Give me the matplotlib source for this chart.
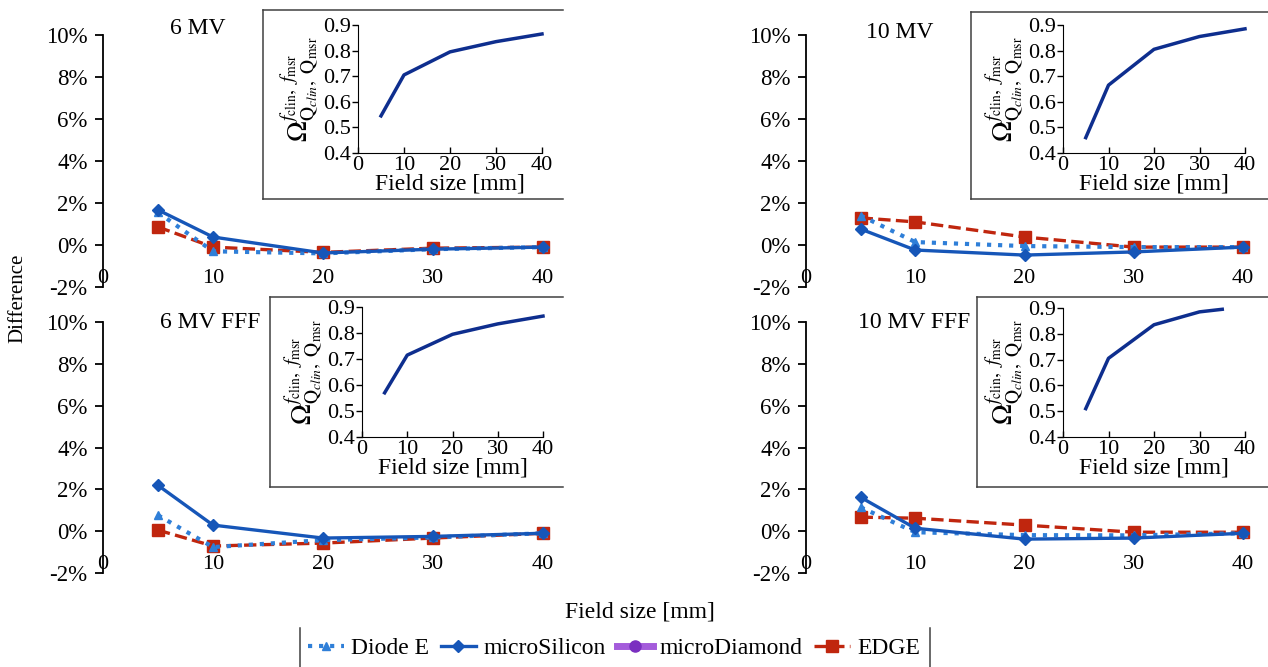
import numpy as np
import matplotlib
matplotlib.use("Agg")
import matplotlib.pyplot as plt
from matplotlib.lines import Line2D

plt.rcParams['font.family'] = ['Liberation Serif', 'DejaVu Serif']
plt.rcParams['mathtext.fontset'] = 'stix'

W, H = 1268, 667

# field sizes [mm]
field_sizes = [5, 10, 20, 30, 40]
of_sizes_10fff = [5, 10, 20, 30, 35]

# difference in percent, per detector and beam
diode_6 = [1.55, -0.30, -0.40, -0.20, -0.10]
silicon_6 = [1.67, 0.38, -0.38, -0.20, -0.10]
diamond_6 = [np.nan, np.nan, -0.38, -0.20, -0.10]
edge_6 = [0.86, -0.10, -0.35, -0.15, -0.10]

diode_10 = [1.40, 0.14, -0.05, -0.10, -0.10]
silicon_10 = [0.76, -0.24, -0.48, -0.33, -0.10]
diamond_10 = [np.nan, np.nan, -0.48, -0.33, -0.10]
edge_10 = [1.29, 1.10, 0.38, -0.10, -0.10]

diode_6fff = [0.76, -0.76, -0.43, -0.30, -0.10]
silicon_6fff = [2.19, 0.29, -0.33, -0.25, -0.10]
diamond_6fff = [np.nan, np.nan, -0.33, -0.25, -0.10]
edge_6fff = [0.05, -0.71, -0.57, -0.33, -0.10]

diode_10fff = [1.14, -0.05, -0.19, -0.20, -0.10]
silicon_10fff = [1.62, 0.14, -0.38, -0.33, -0.10]
diamond_10fff = [np.nan, np.nan, -0.38, -0.33, -0.10]
edge_10fff = [0.67, 0.62, 0.29, -0.05, -0.05]

# output factors (insets)
of_6 = [0.545, 0.705, 0.795, 0.835, 0.865]
of_10 = [0.460, 0.665, 0.805, 0.855, 0.885]
of_6fff = [0.570, 0.715, 0.795, 0.835, 0.865]
of_10fff = [0.510, 0.705, 0.835, 0.885, 0.895]

detectors = ['Diode E', 'microSilicon', 'microDiamond', 'EDGE']
y_ticks = [-2, 0, 2, 4, 6, 8, 10]
x_ticks = [0, 10, 20, 30, 40]
of_ticks = [0.4, 0.5, 0.6, 0.7, 0.8, 0.9]

styles = {
    'Diode E': dict(color='#2F7FD8', ls=':', lw=3, marker='^', ms=6, zorder=4),
    'microSilicon': dict(color='#1656B8', ls='-', lw=2.4, marker='D', ms=6, zorder=5),
    'microDiamond': dict(color='#A45CDB', ls='-', lw=1.4, marker='o', ms=3,
                         mfc='#7A2FC0', mec='#7A2FC0', zorder=1),
    'EDGE': dict(color='#C0260E', ls='--', lw=2.4, marker='s', ms=8, zorder=3),
}


def px(left, top, right, bottom):
    return [left / W, 1 - bottom / H, (right - left) / W, (bottom - top) / H]


fig = plt.figure(figsize=(W / 100, H / 100), dpi=100)


def main_panel(box, title, title_pos, series):
    ax = fig.add_axes(px(*box))
    ax.patch.set_visible(False)
    for name, vals in zip(detectors, series):
        ax.plot(field_sizes, vals, clip_on=False, **styles[name])
    ax.set_xlim(0, 40)
    ax.set_ylim(-2, 10)
    ax.set_yticks(y_ticks)
    ax.set_yticklabels([f'{t}%' for t in y_ticks])
    ax.set_xticks(x_ticks)
    ax.set_xticklabels([str(t) for t in x_ticks])
    for s in ['top', 'right', 'bottom']:
        ax.spines[s].set_visible(False)
    ax.spines['left'].set_linewidth(1.3)
    ax.tick_params(axis='x', length=0, pad=-13, labelsize=16)
    ax.tick_params(axis='y', length=6, width=1.3, labelsize=16.5, pad=5)
    fig.text(title_pos[0] / W, 1 - title_pos[1] / H, title, fontsize=17,
             ha='left', va='center')
    return ax


def inset_panel(frame, box, sizes, of):
    x0, y0, x1, y1 = frame
    for xs, ys in [([x0, x1], [y0, y0]), ([x0, x1], [y1, y1]), ([x0, x0], [y0, y1])]:
        fig.add_artist(Line2D([x / W for x in xs], [1 - y / H for y in ys],
                              color='#404040', lw=1.1, transform=fig.transFigure))
    ax = fig.add_axes(px(*box))
    ax.patch.set_visible(False)
    ax.plot(sizes, of, color='#0E2E8E', lw=2.5, clip_on=False)
    ax.set_xlim(0, 40)
    ax.set_ylim(0.4, 0.9)
    ax.set_xticks(x_ticks)
    ax.set_yticks(of_ticks)
    ax.set_yticklabels([f'{t:.1f}' for t in of_ticks])
    for s in ['top', 'right']:
        ax.spines[s].set_visible(False)
    ax.tick_params(axis='both', length=4, width=1, labelsize=16, pad=1)
    ax.tick_params(axis='x', direction='in', pad=2)
    ax.set_xlabel('Field size [mm]', fontsize=17, labelpad=-1)
    ax.set_ylabel(r'$\Omega^{f_{\mathrm{clin}},\ f_{\mathrm{msr}}}'
                  r'_{\mathrm{Q}_{clin},\ \mathrm{Q}_{\mathrm{msr}}}$',
                  fontsize=20, labelpad=0)
    return ax


main_panel((103, 35, 543, 287), '6 MV', (170, 28),
           [diode_6, silicon_6, diamond_6, edge_6])
main_panel((806, 35, 1243, 287), '10 MV', (866, 33),
           [diode_10, silicon_10, diamond_10, edge_10])
main_panel((103, 322, 543, 573), '6 MV FFF', (160, 322),
           [diode_6fff, silicon_6fff, diamond_6fff, edge_6fff])
main_panel((806, 322, 1243, 573), '10 MV FFF', (858, 322),
           [diode_10fff, silicon_10fff, diamond_10fff, edge_10fff])

inset_panel((263, 10, 563, 199), (358, 25, 542, 153), field_sizes, of_6)
inset_panel((971, 12, 1268, 199), (1063, 25, 1245, 153), field_sizes, of_10)
inset_panel((270, 297, 563, 487), (362, 307, 543, 437), field_sizes, of_6fff)
inset_panel((977, 297, 1268, 487), (1063, 308, 1245, 437), of_sizes_10fff, of_10fff)

fig.text(18 / W, 1 - 298 / H, 'Difference', rotation=90, fontsize=15,
         ha='center', va='center')
fig.text(640 / W, 1 - 612 / H, 'Field size [mm]', fontsize=17,
         ha='center', va='center')

handles = []
for name in detectors:
    st = dict(styles[name])
    st.pop('zorder')
    if name == 'microDiamond':
        st['lw'] = 5
        st['ms'] = 8
    handles.append(Line2D([], [], **st))
fig.legend(handles, detectors, ncol=4, loc='center',
           bbox_to_anchor=(614 / W, 1 - 648 / H), frameon=False, fontsize=17,
           handlelength=1.5, columnspacing=0.5, handletextpad=0.3)
for xv in (300, 930):
    fig.add_artist(Line2D([xv / W, xv / W], [1 - 628 / H, 0], color='#404040',
                          lw=1.1, transform=fig.transFigure))

fig.savefig('out.png', dpi=100)
